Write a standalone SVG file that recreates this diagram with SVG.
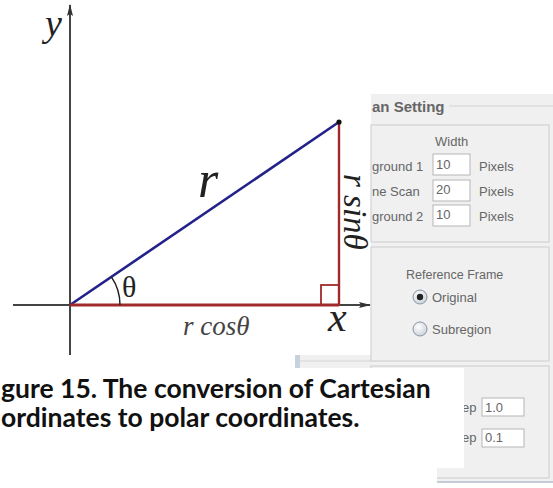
<svg xmlns="http://www.w3.org/2000/svg" width="553" height="488" viewBox="0 0 553 488">
<defs>
<marker id="arr" viewBox="0 0 12 6" refX="11" refY="3" markerWidth="12" markerHeight="6" markerUnits="userSpaceOnUse" orient="auto">
<path d="M0,0 L12,3 L0,6 L2,3 Z" fill="#333"/>
</marker>
<radialGradient id="rad" cx="0.4" cy="0.35" r="0.7">
<stop offset="0" stop-color="#ffffff"/>
<stop offset="1" stop-color="#c9d0d8"/>
</radialGradient>
</defs>
<style>
.gui{font-family:"Liberation Sans",Arial,sans-serif;font-size:13px;fill:#666}
.box{fill:#fff;stroke:#b5b5b5;stroke-width:1}
.gb{fill:none;stroke:#d3d3d3;stroke-width:1.2}
.math{font-family:"Liberation Serif","Times New Roman",serif;font-style:italic;fill:#222}
.cap{font-family:Lato,"Liberation Sans",sans-serif;font-weight:bold;font-size:26.5px;fill:#111}
</style>
<rect width="553" height="488" fill="#fff"/>
<g id="panel">
<rect x="295" y="355" width="76" height="13" fill="#f0f0f0"/>
<rect x="295" y="355" width="5" height="13" fill="#c8d2dc"/>
<line x1="300" y1="361" x2="549" y2="361" stroke="#d3d3d3" stroke-width="1.2"/>
<rect x="371" y="94" width="182" height="389" fill="#f0f0f0"/>
<line x1="371" y1="482" x2="553" y2="482" stroke="#c3ccd6" stroke-width="2"/>
<text x="372" y="112" style="font-family:'Liberation Sans',Arial,sans-serif;font-weight:bold;font-size:15px;fill:#666">an Setting</text>
<line x1="449" y1="106" x2="553" y2="106" stroke="#d3d3d3" stroke-width="1.2"/>
<rect class="gb" x="371" y="125" width="178" height="117"/>
<text class="gui" x="435" y="146">Width</text>
<text class="gui" x="372" y="171">ground 1</text>
<rect class="box" x="433" y="154" width="37" height="21"/>
<text class="gui" x="436" y="169">10</text>
<text class="gui" x="479" y="171">Pixels</text>
<text class="gui" x="372" y="196">ne Scan</text>
<rect class="box" x="433" y="180" width="37" height="21"/>
<text class="gui" x="436" y="194">20</text>
<text class="gui" x="479" y="196">Pixels</text>
<text class="gui" x="372" y="221">ground 2</text>
<rect class="box" x="433" y="205" width="37" height="21"/>
<text class="gui" x="436" y="219">10</text>
<text class="gui" x="479" y="221">Pixels</text>
<rect class="gb" x="371" y="247" width="178" height="114"/>
<text class="gui" x="406" y="279" style="font-size:12.5px">Reference Frame</text>
<circle cx="420" cy="297" r="7" fill="url(#rad)" stroke="#8a96a3" stroke-width="1"/>
<circle cx="420" cy="297" r="3.2" fill="#222"/>
<text class="gui" x="432" y="302">Original</text>
<circle cx="420" cy="329" r="7" fill="url(#rad)" stroke="#8a96a3" stroke-width="1"/>
<text class="gui" x="432" y="334">Subregion</text>
<rect class="gb" x="371" y="366" width="178" height="112"/>
<text class="gui" x="462" y="412">ep</text>
<rect class="box" x="482" y="398" width="42" height="18"/>
<text class="gui" x="485" y="412">1.0</text>
<text class="gui" x="462" y="442">ep</text>
<rect class="box" x="482" y="429" width="42" height="18"/>
<text class="gui" x="485" y="442">0.1</text>
</g>
<g id="diagram">
<rect x="0" y="0" width="370" height="355" fill="#fff"/>
<g id="connectors">
<line id="y-axis" x1="70" y1="355" x2="70" y2="5" stroke="#444" stroke-width="2" marker-end="url(#arr)"/>
<line id="x-axis" x1="13" y1="305" x2="370" y2="305" stroke="#444" stroke-width="2" marker-end="url(#arr)"/>
<line id="r-line" x1="70" y1="305" x2="339" y2="122" stroke="#22228a" stroke-width="2.6"/>
<line id="cos-line" x1="70" y1="305" x2="339" y2="305" stroke="#a02a2a" stroke-width="3.2"/>
<line id="sin-line" x1="339" y1="305" x2="339" y2="122" stroke="#a02a2a" stroke-width="2.4"/>
<rect x="321" y="285" width="18" height="20" fill="none" stroke="#a02a2a" stroke-width="1.8"/>
<path d="M111.4,276.9 A50,50 0 0 1 120,305" fill="none" stroke="#222" stroke-width="1.5"/>
<circle cx="339" cy="122" r="2.6" fill="#111"/>
</g>
<g id="labels">
<text class="math" x="45" y="36" font-size="38">y</text>
<text class="math" x="198" y="197" font-size="52">r</text>
<text x="122" y="297" style="font-family:'Liberation Serif',serif;font-size:30px;fill:#222">θ</text>
<text class="math" x="183" y="335" font-size="27" style="fill:#444">r cosθ</text>
<text class="math" x="328" y="331" font-size="42">x</text>
<text class="math" font-size="33" transform="translate(344,174) rotate(90)">r sinθ</text>
</g>
</g>
<g id="caption">
<rect x="0" y="368" width="464" height="100" fill="#fff"/>
<rect x="0" y="468" width="437" height="20" fill="#fff"/>
<text class="cap" x="1" y="398">gure 15. The conversion of Cartesian</text>
<text class="cap" x="1" y="427">ordinates to polar coordinates.</text>
</g>
</svg>
